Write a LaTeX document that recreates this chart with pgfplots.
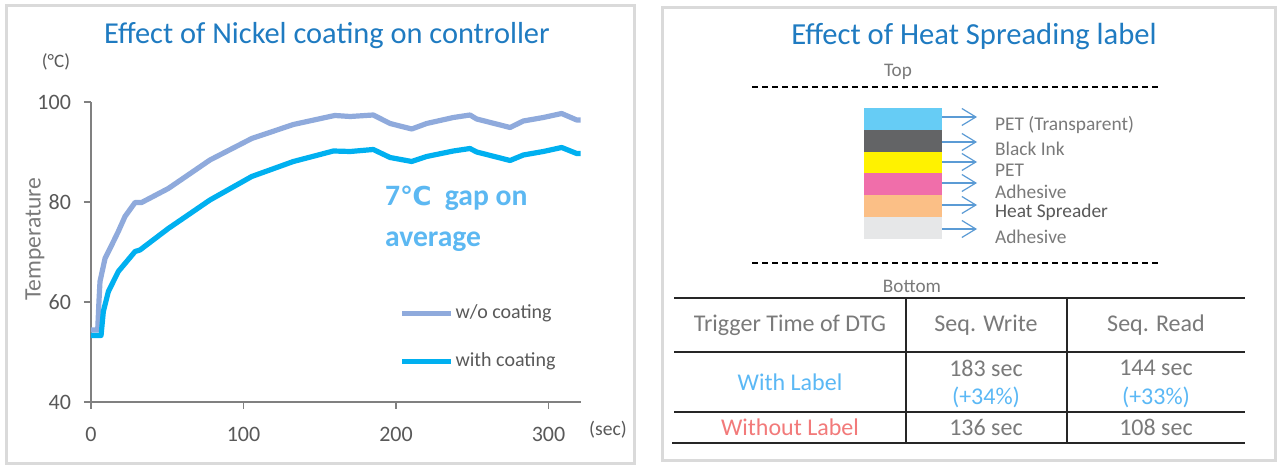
\documentclass[border=0pt]{standalone}
\usepackage{fontspec}
\setmainfont{Carlito}
\newfontfamily\dejavu{DejaVu Sans}
\usepackage{pgfplots}
\pgfplotsset{compat=1.18}
\usetikzlibrary{arrows.meta}
\definecolor{titleblue}{HTML}{1F7BC1}
\definecolor{woline}{HTML}{8FAADC}
\definecolor{withline}{HTML}{00B0F0}
\definecolor{annot}{HTML}{5CB8F2}
\definecolor{axisgray}{HTML}{808080}
\definecolor{txtgray}{HTML}{595959}
\definecolor{ltxt}{HTML}{7A7A7A}
\definecolor{panel}{HTML}{DADADA}
\definecolor{arrowblue}{HTML}{5B9BD5}
\definecolor{lcyan}{HTML}{66CCF5}
\definecolor{ldark}{HTML}{636466}
\definecolor{lyellow}{HTML}{FFF200}
\definecolor{lpink}{HTML}{F06EAA}
\definecolor{lpeach}{HTML}{FBBF86}
\definecolor{lgrey}{HTML}{E6E7E8}
\definecolor{withlab}{HTML}{5BB8F5}
\definecolor{withoutlab}{HTML}{F27A7A}
\begin{document}
\begin{tikzpicture}
\begin{scope}[x=0.5pt,y=-0.5pt]
\fill[white] (0,0) rectangle (1280,469);
\draw[panel,line width=1.5pt] (6,6) rectangle (634,464);
\draw[panel,line width=1.5pt] (662,8) rectangle (1275,461);
\coordinate (AX) at (91,402);
% left panel texts
\node[titleblue, font=\fontsize{15.2}{18}\selectfont] at (327,36) {Effect of Nickel coating on controller};
\node[txtgray, font=\fontsize{9.5}{11}\selectfont] at (56,62) {(°C)};
\node[txtgray, font=\fontsize{9.8}{11}\selectfont] at (608,430) {(sec)};
\node[ltxt, rotate=90, font=\fontsize{11.8}{13}\selectfont] at (35,239) {Temperature};
\node[annot, anchor=west, font=\bfseries\fontsize{14.8}{17}\selectfont] at (378,198) {7{\dejavu\bfseries\fontsize{13}{15}\selectfont ℃}\ \ gap on};
\node[annot, anchor=west, font=\bfseries\fontsize{14.8}{17}\selectfont] at (378,242) {average};
% right panel
\node[titleblue, font=\fontsize{15.3}{18}\selectfont] at (974,37) {Effect of Heat Spreading label};
\node[ltxt, font=\fontsize{9.6}{11}\selectfont] at (898,72) {Top};
\node[ltxt, font=\fontsize{9.6}{11}\selectfont] at (912,286) {Bottom};
\draw[black, dash pattern=on 3pt off 2pt, line width=0.6pt] (752,87) -- (1160,87);
\draw[black, dash pattern=on 3pt off 2pt, line width=0.6pt] (752,263) -- (1160,263);
\fill[lcyan] (864,108) rectangle (942,130);
\fill[ldark] (864,130) rectangle (942,152);
\fill[lyellow] (864,152) rectangle (942,173);
\fill[lpink] (864,173) rectangle (942,195);
\fill[lpeach] (864,195) rectangle (942,217);
\fill[lgrey] (864,217) rectangle (942,239);
\foreach \yy in {117,142,162,183,205,229}{
  \draw[arrowblue, line width=0.6pt, -{Straight Barb[length=7pt,width=8.5pt]}] (942,\yy) -- (977,\yy);
}
\begin{scope}[every node/.style={anchor=west, ltxt, font=\fontsize{9.7}{11}\selectfont}]
\node at (988,125) {PET (Transparent)};
\node at (988,149) {Black Ink};
\node at (988,170.5) {PET};
\node at (988,191.5) {Adhesive};
\node[txtgray] at (988,212) {Heat Spreader};
\node at (988,237) {Adhesive};
\end{scope}
% table
\draw[black!85, line width=0.6pt] (674,298) -- (1245,298);
\draw[black!85, line width=0.6pt] (674,352) -- (1245,352);
\draw[black!85, line width=0.6pt] (674,412) -- (1245,412);
\draw[black!85, line width=0.6pt] (672,443) -- (1245,443);
\draw[black!85, line width=0.6pt] (906,298) -- (906,443);
\draw[black!85, line width=0.6pt] (1067,298) -- (1067,443);
\begin{scope}[every node/.style={ltxt, font=\fontsize{12}{14}\selectfont}]
\node at (790,325) {Trigger Time of DTG};
\node at (986,325) {Seq. Write};
\node at (1156,325) {Seq. Read};
\node[withlab] at (790,382) {With Label};
\node at (986,368) {183 sec};
\node[withlab] at (986,397) {(+34\%)};
\node at (1156,368) {144 sec};
\node[withlab] at (1156,397) {(+33\%)};
\node[withoutlab] at (790,427) {Without Label};
\node at (986,427) {136 sec};
\node at (1156,427) {108 sec};
\end{scope}
\end{scope}
\begin{axis}[at={(AX)}, anchor=south west, scale only axis,
  width=245pt, height=150pt,
  xmin=0, xmax=321.3, ymin=40, ymax=100,
  axis lines=left, axis line style={-, draw=axisgray, line width=0.7pt},
  xtick={0,100,200,300}, ytick={40,60,80,100},
  tick align=outside, major tick length=3.5pt,
  tick style={axisgray, line width=0.7pt},
  /pgf/number format/assume math mode=true,
  ticklabel style={font=\fontsize{11}{12}\selectfont, text=txtgray},
  yticklabel style={xshift=-3pt},
  xticklabel style={yshift=-5.5pt},
  clip=false,
  legend cell align=left,
  legend image code/.code={\draw[#1, line width=2.5pt] (0pt,0pt) -- (24.5pt,0pt);},
  legend style={at={(axis description cs:0.629,0.215)}, anchor=west, draw=none, fill=none,
    font=\fontsize{10}{12}\selectfont, text=txtgray, row sep=13.5pt, inner sep=0pt,
    nodes={inner sep=1pt}},
]
\addplot[woline, line width=2.6pt, line join=round] coordinates {
(0,54.4)(4.4,54.4)(5.2,60)(5.9,64.1)(9.2,68.7)(13.6,71.4)(17.9,74.1)(22.3,77.1)(28.9,79.9)(33.2,79.9)(50.7,82.7)(78,88.4)(105.4,92.7)(132.7,95.5)(156.7,97.1)(160,97.3)(170,97.1)(185.1,97.4)(196.1,95.7)(210.3,94.6)(220.1,95.7)(237.6,96.9)(248.5,97.4)(252.9,96.6)(274.8,94.9)(283.5,96.2)(296.6,96.9)(308.6,97.7)(318.5,96.4)(321,96.4)
};
\addlegendentry{w/o coating}
\addplot[withline, line width=2.6pt, line join=round] coordinates {
(0,53.3)(6.6,53.3)(8.1,58.1)(11.4,62.1)(17.9,66.1)(28.9,70.1)(32.1,70.4)(50.7,74.7)(78,80.4)(105.4,85.1)(132.7,88.1)(149,89.4)(158.9,90.2)(170,90.1)(185.1,90.5)(196.1,88.9)(210.3,88.1)(220.1,89.1)(237.6,90.2)(248.5,90.7)(252.9,90.0)(274.8,88.3)(283.5,89.4)(296.6,90.1)(308.6,90.9)(318.5,89.7)(321,89.7)
};
\addlegendentry{with coating}
\end{axis}
\end{tikzpicture}
\end{document}
